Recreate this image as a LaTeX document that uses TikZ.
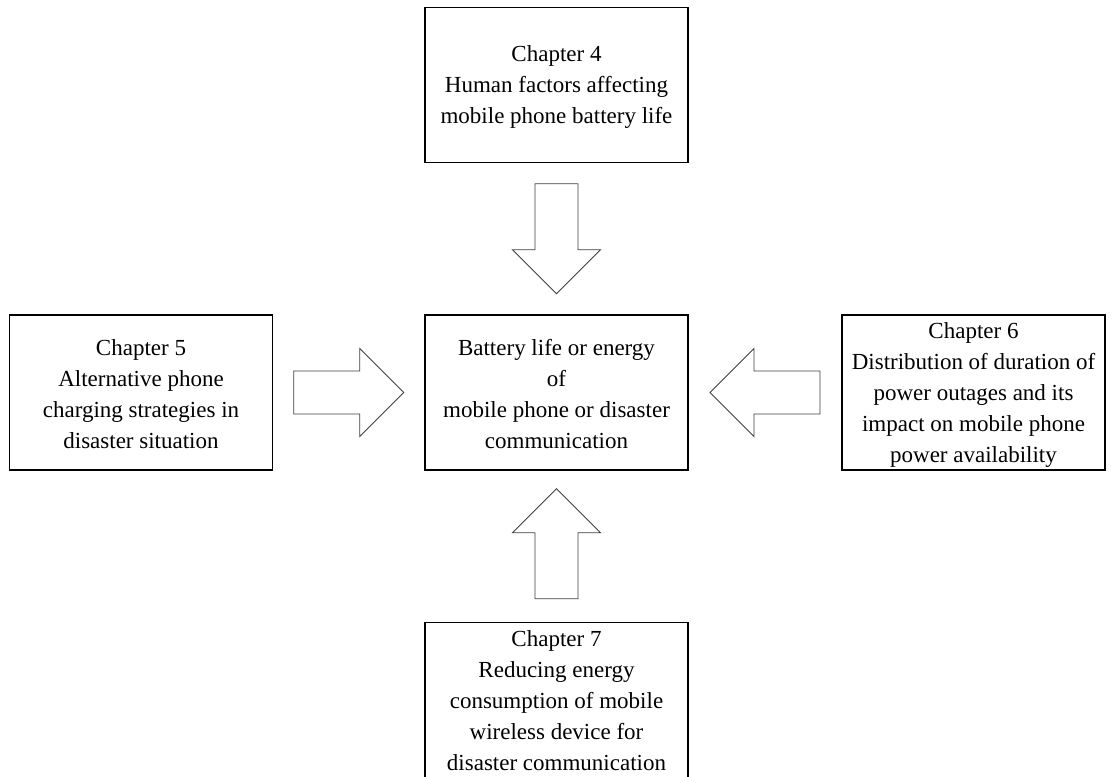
\documentclass[tikz,border=0pt]{standalone}
\usepackage{fontspec}
\setmainfont{Liberation Serif}
\usetikzlibrary{calc}
\tikzset{
  chapbox/.style={draw=black, line width=1.2pt, fill=white,
    minimum width=263pt, minimum height=155pt, inner sep=0pt},
  chaptext/.style={inner sep=0pt, align=center,
    font=\fontsize{23}{31}\selectfont},
  pics/blockarrow/.style={code={
    \draw[line width=0.9pt, draw=black!75, fill=white]
      (-55,-21.5) -- (11,-21.5) -- (11,-44) -- (55,0) -- (11,44)
      -- (11,21.5) -- (-55,21.5) -- cycle;
  }}
}
\begin{document}
\begin{tikzpicture}[x=1pt, y=-1pt]
  \clip (0,0) rectangle (1113,776);
  \fill[white] (0,0) rectangle (1113,776);

  % chapter boxes
  \node[chapbox] (ch4) at (556.5,85) {};
  \node[chapbox] (ch5) at (141,392.5) {};
  \node[chapbox] (core) at (556.5,392.5) {};
  \node[chapbox] (ch6) at (973.5,392.5) {};
  \node[chapbox] (ch7) at (556.5,700) {};

  % box texts
  \node[chaptext] (ch4t) at ($(ch4)+(0,2.5)$) {Chapter 4\\Human factors affecting\\mobile phone battery life};
  \node[chaptext] (ch5t) at ($(ch5)+(0,2)$) {Chapter 5\\Alternative phone\\charging strategies in\\disaster situation};
  \node[chaptext] (coret) at ($(core)+(0,1.5)$) {Battery life or energy\\of\\mobile phone or disaster\\communication};
  \node[chaptext] (ch6t) at ($(ch6)+(0,2)$) {Chapter 6\\Distribution of duration of\\power outages and its\\impact on mobile phone\\power availability};
  \node[chaptext] (ch7t) at ($(ch7)+(0,1)$) {Chapter 7\\Reducing energy\\consumption of mobile\\wireless device for\\disaster communication};

  % block arrows into the central box
  \pic[rotate=-90] at ($(ch4.south)!0.5!(core.north)$) {blockarrow};
  \pic at ($(ch5.east)!0.5!(core.west)$) {blockarrow};
  \pic[rotate=180] at ($(ch6.west)!0.5!(core.east)$) {blockarrow};
  \pic[rotate=90] at ($(ch7.north)!0.5!(core.south)+(0,-2.5)$) {blockarrow};
\end{tikzpicture}
\end{document}
